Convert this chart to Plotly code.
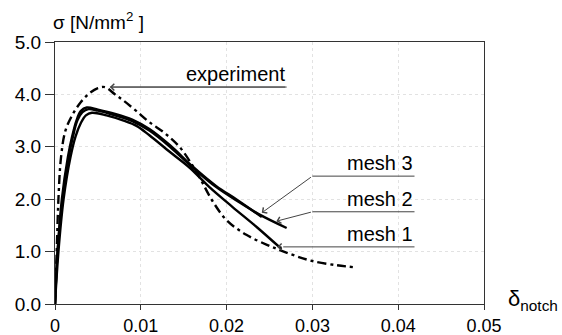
import plotly.graph_objects as go

# ---- data ----
exp_x = [0, 0.0002, 0.0004, 0.0007, 0.0012, 0.002, 0.003, 0.004, 0.005, 0.0058, 0.007, 0.008,
         0.0095, 0.011, 0.0128, 0.0145, 0.016, 0.017, 0.0183, 0.020, 0.0223, 0.0247, 0.0262,
         0.028, 0.030, 0.0328, 0.035]
exp_y = [0, 1.0, 2.0, 2.8, 3.3, 3.6, 3.85, 4.02, 4.12, 4.14, 4.0, 3.88,
         3.68, 3.47, 3.26, 3.0, 2.65, 2.37, 1.98, 1.60, 1.32, 1.13, 1.03,
         0.92, 0.82, 0.74, 0.70]

mesh3_x = [0, 0.0003, 0.0008, 0.0015, 0.002, 0.0025, 0.003, 0.0037, 0.005, 0.007, 0.009,
           0.011, 0.0134, 0.016, 0.0188, 0.0212, 0.0241]
mesh3_y = [0, 1.0, 2.0, 2.8, 3.2, 3.5, 3.68, 3.75, 3.71, 3.63, 3.52,
           3.34, 3.03, 2.63, 2.25, 1.99, 1.66]

mesh2_x = [0, 0.0003, 0.0009, 0.0016, 0.0021, 0.0026, 0.0032, 0.0039, 0.005, 0.007, 0.009,
           0.011, 0.0134, 0.016, 0.0188, 0.0212, 0.0238, 0.027]
mesh2_y = [0, 1.0, 2.0, 2.8, 3.2, 3.5, 3.66, 3.72, 3.69, 3.60, 3.49,
           3.31, 3.0, 2.61, 2.23, 1.97, 1.71, 1.45]

mesh1_x = [0, 0.0004, 0.001, 0.0018, 0.0024, 0.003, 0.0036, 0.0043, 0.006, 0.008, 0.0095,
           0.011, 0.0134, 0.0157, 0.018, 0.0207, 0.0235, 0.0264]
mesh1_y = [0, 1.0, 2.0, 2.8, 3.2, 3.45, 3.6, 3.65, 3.60, 3.50, 3.40,
           3.22, 2.9, 2.6, 2.23, 1.85, 1.47, 1.05]

x_ticks = [0, 0.01, 0.02, 0.03, 0.04, 0.05]
x_ticktext = ["0", "0.01", "0.02", "0.03", "0.04", "0.05"]
y_ticks = [0, 1, 2, 3, 4, 5]
y_ticktext = ["0.0", "1.0", "2.0", "3.0", "4.0", "5.0"]

# labels: text, arrow tip (x, y), elbow (x, y), line end x
labels = ["experiment", "mesh 3", "mesh 2", "mesh 1"]
tips = [(0.0064, 4.14), (0.0241, 1.74), (0.0258, 1.58), (0.0259, 1.09)]
elbows = [(0.0064, 4.14), (0.0300, 2.44), (0.0300, 1.76), (0.0266, 1.09)]
line_end_x = [0.0270, 0.0419, 0.0419, 0.0419]

FONT = "Liberation Sans, Arial, Helvetica, sans-serif"

fig = go.Figure()
fig.add_trace(go.Scatter(x=exp_x, y=exp_y, mode="lines", line=dict(color="black", width=2.4,
                         dash="9px,4px,3px,4px"), line_shape="spline", name="experiment"))
fig.add_trace(go.Scatter(x=mesh3_x, y=mesh3_y, mode="lines", line=dict(color="black", width=2.4),
                         line_shape="spline", name="mesh 3"))
fig.add_trace(go.Scatter(x=mesh2_x, y=mesh2_y, mode="lines", line=dict(color="black", width=2.4),
                         line_shape="spline", name="mesh 2"))
fig.add_trace(go.Scatter(x=mesh1_x, y=mesh1_y, mode="lines", line=dict(color="black", width=2.4),
                         line_shape="spline", name="mesh 1"))

for txt, (tx, ty), (ex, ey), lx in zip(labels, tips, elbows, line_end_x):
    fig.add_shape(type="line", x0=ex, y0=ey, x1=lx, y1=ey, xref="x", yref="y",
                  line=dict(color="#444", width=1))
    fig.add_annotation(x=tx, y=ty, ax=ex if ex != tx else lx, ay=ey,
                       axref="x", ayref="y", xref="x", yref="y", text="",
                       showarrow=True, arrowhead=4, arrowsize=1.3, arrowwidth=1,
                       arrowcolor="#444")
    fig.add_annotation(x=lx, y=ey, xref="x", yref="y", text=txt, showarrow=False,
                       xanchor="right", yanchor="bottom", yshift=0,
                       font=dict(family=FONT, size=20, color="black"))

fig.add_annotation(x=0, y=1.0 + 21 / 262, xref="paper", yref="paper", text="σ [N/mm<sup>2</sup> ]",
                   showarrow=False, xanchor="left", yanchor="middle", xshift=-4,
                   font=dict(family=FONT, size=19, color="black"))
fig.add_annotation(x=1.0, y=0.0, xref="paper", yref="paper", text="δ<sub>notch</sub>",
                   showarrow=False, xanchor="left", yanchor="middle", xshift=22, yshift=4,
                   font=dict(family=FONT, size=22, color="black"))

fig.update_layout(
    width=562, height=335,
    margin=dict(l=55, r=78, t=42, b=31, autoexpand=False),
    paper_bgcolor="white", plot_bgcolor="white",
    showlegend=False,
    font=dict(family=FONT, size=18, color="black"),
)
fig.update_xaxes(range=[0, 0.05], tickvals=x_ticks, ticktext=x_ticktext,
                 showline=True, linecolor="#333", linewidth=1.3, mirror=True,
                 ticks="outside", ticklen=5, tickcolor="#333",
                 showgrid=True, gridcolor="#e2e2e2", griddash="dot", gridwidth=1,
                 zeroline=False, tickfont=dict(size=18), automargin=False)
fig.update_yaxes(range=[0, 5], tickvals=y_ticks, ticktext=y_ticktext,
                 showline=True, linecolor="#333", linewidth=1.3, mirror=True,
                 ticks="outside", ticklen=9, tickcolor="#333",
                 showgrid=True, gridcolor="#e2e2e2", griddash="dot", gridwidth=1,
                 zeroline=False, tickfont=dict(size=19), automargin=False)

fig.write_html("out.html", config={"displayModeBar": False},
               post_script="document.body.style.margin='0';document.body.style.overflow='hidden';")
